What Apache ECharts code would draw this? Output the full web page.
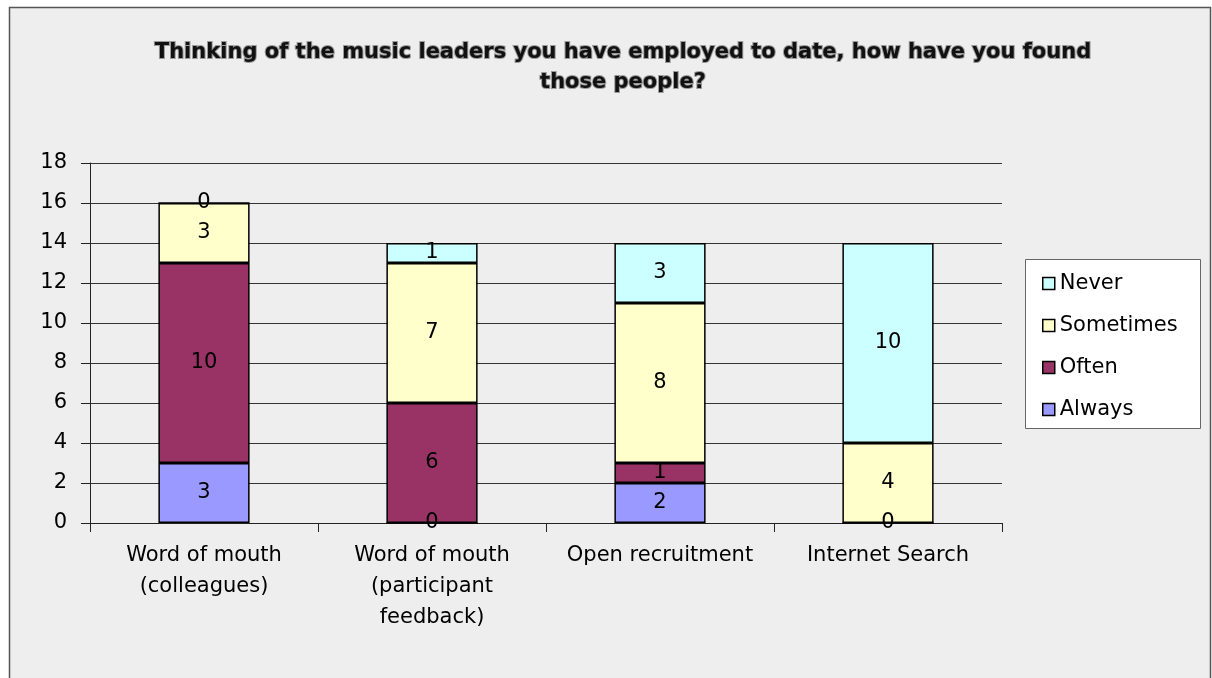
<!DOCTYPE html>
<html>
<head>
<meta charset="utf-8">
<script src="https://cdn.jsdelivr.net/npm/echarts@6/dist/echarts.min.js"></script>
<style>
  html, body { margin: 0; padding: 0; background: #ffffff; }
  #chart { width: 1212px; height: 678px; }
</style>
</head>
<body>
<div id="chart"></div>
<script>
// Survey responses: how music leaders have been found
const categories = [
  'Word of mouth\n(colleagues)',
  'Word of mouth\n(participant\nfeedback)',
  'Open recruitment',
  'Internet Search'
];
const always    = [3, 0, 2, 0];
const often     = [10, 6, 1, null];
const sometimes = [3, 7, 8, 4];
const never     = [0, 1, 3, 10];
const legendOrder = ['Never', 'Sometimes', 'Often', 'Always'];
const titleText = 'Thinking of the music leaders you have employed to date, how have you found\nthose people?';

const FONT = '"DejaVu Sans", "Liberation Sans", Arial, sans-serif';

function segment(name, values, color) {
  return {
    name: name,
    type: 'bar',
    stack: 'total',
    data: values,
    barWidth: '40%',
    itemStyle: { color: color, borderColor: '#000000', borderWidth: 1.5 },
    label: {
      show: true,
      position: 'inside',
      color: '#000000',
      fontFamily: FONT,
      fontSize: 21
    },
    emphasis: { disabled: true }
  };
}

const chart = echarts.init(document.getElementById('chart'), null, { renderer: 'canvas' });
chart.setOption({
  animation: false,
  backgroundColor: '#ffffff',
  graphic: [
    {
      type: 'rect',
      z: -10,
      shape: { x: 9.5, y: 7.5, width: 1201, height: 690 },
      style: { fill: '#eeeeee', stroke: '#555555', lineWidth: 1.5 }
    },
    {
      type: 'rect',
      z: -5,
      shape: { x: 1025.5, y: 259.5, width: 175, height: 169 },
      style: { fill: '#ffffff', stroke: '#666666', lineWidth: 1 }
    }
  ],
  title: {
    text: titleText,
    left: 618,
    textAlign: 'center',
    top: 33,
    textStyle: {
      fontFamily: FONT,
      fontWeight: 'bold',
      fontSize: 21,
      lineHeight: 30,
      color: '#111111',
      textBorderColor: '#9a9a9a',
      textBorderWidth: 2
    }
  },
  legend: {
    data: legendOrder,
    orient: 'vertical',
    left: 1037,
    top: 268,
    itemWidth: 12,
    itemHeight: 12,
    itemGap: 21,
    icon: 'rect',
    selectedMode: false,
    itemStyle: { borderColor: '#000000', borderWidth: 1.5 },
    textStyle: { fontFamily: FONT, fontSize: 21, color: '#000000', padding: [0, 0, 0, 0] }
  },
  grid: { left: 90, right: 210, top: 163, bottom: 155, containLabel: false },
  xAxis: {
    type: 'category',
    data: categories,
    axisLine: { lineStyle: { color: '#222222', width: 1 } },
    axisTick: { show: true, length: 9, alignWithLabel: false, lineStyle: { color: '#222222' } },
    axisLabel: {
      fontFamily: FONT,
      fontSize: 21,
      color: '#000000',
      lineHeight: 31,
      margin: 17,
      interval: 0
    }
  },
  yAxis: {
    type: 'value',
    min: 0,
    max: 18,
    interval: 2,
    axisLine: { show: true, lineStyle: { color: '#222222', width: 1 } },
    axisTick: { show: true, length: 9, lineStyle: { color: '#222222' } },
    axisLabel: { fontFamily: FONT, fontSize: 21, color: '#000000', margin: 23 },
    splitLine: { show: true, lineStyle: { color: '#333333', width: 1 } }
  },
  series: [
    segment('Always', always, '#9999ff'),
    segment('Often', often, '#993366'),
    segment('Sometimes', sometimes, '#ffffcc'),
    segment('Never', never, '#ccffff')
  ]
});
</script>
</body>
</html>
